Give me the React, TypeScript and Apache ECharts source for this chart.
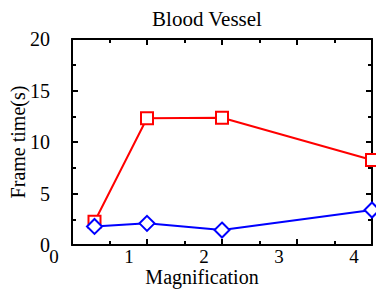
import React, { useEffect, useRef } from "react";
import * as echarts from "echarts";

const magnification = [0.3, 1, 2, 4];
const redTimes = [2.25, 12.3, 12.35, 8.25];
const blueTimes = [1.8, 2.1, 1.45, 3.4];
const xTicks = [0, 1, 2, 3, 4];
const yTicks = [0, 5, 10, 15, 20];

const FONT = "'Liberation Serif', 'DejaVu Serif', serif";

export default function App() {
  const ref = useRef<HTMLDivElement>(null);
  useEffect(() => {
    if (!ref.current) return;
    const chart = echarts.init(ref.current, undefined, { renderer: "svg" });
    const axisCommon = {
      type: "value" as const,
      axisLine: { show: true, onZero: false, lineStyle: { color: "#000", width: 2 } },
      axisTick: { show: true, inside: true, length: 6, lineStyle: { color: "#000", width: 2 } },
      minorTick: { show: true, splitNumber: 2, length: 4, lineStyle: { color: "#000", width: 2 } },
      splitLine: { show: false },
    };
    chart.setOption({
      animation: false,
      title: {
        text: "Blood Vessel",
        left: 202,
        textAlign: "center",
        top: 3,
        textStyle: { fontFamily: FONT, fontSize: 21, fontWeight: "normal", color: "#000" },
      },
      grid: { left: 72, right: 4, top: 39, bottom: 51, containLabel: false, outerBoundsMode: "none" },
      xAxis: [
        {
          ...axisCommon,
          position: "bottom",
          min: xTicks[0],
          max: xTicks[xTicks.length - 1],
          interval: 1,
          axisLabel: {
            show: true,
            margin: 2,
            fontFamily: FONT,
            fontSize: 19,
            lineHeight: 19,
            color: "#000",
            padding: [0, 36, 0, 0],
            showMaxLabel: true,
            showMinLabel: true,
          },
          name: "Magnification",
          nameLocation: "middle",
          nameGap: 22,
          nameMoveOverlap: false,
          nameTextStyle: { fontFamily: FONT, fontSize: 20, lineHeight: 20, color: "#000", padding: [0, 40, 0, 0] },
        },
        {
          ...axisCommon,
          position: "top",
          min: xTicks[0],
          max: xTicks[xTicks.length - 1],
          interval: 1,
          axisLabel: { show: false },
        },
      ],
      yAxis: [
        {
          ...axisCommon,
          position: "left",
          min: yTicks[0],
          max: yTicks[yTicks.length - 1],
          interval: 5,
          axisLabel: {
            show: true,
            margin: 22,
            fontFamily: FONT,
            fontSize: 20,
            color: "#000",
            formatter: (v: number) => String(v),
          },
          name: "Frame time(s)",
          nameLocation: "middle",
          nameGap: 44,
          nameMoveOverlap: false,
          nameTextStyle: { fontFamily: FONT, fontSize: 20, color: "#000" },
        },
        {
          ...axisCommon,
          position: "right",
          min: yTicks[0],
          max: yTicks[yTicks.length - 1],
          interval: 5,
          axisLabel: { show: false },
        },
      ],
      series: [
        {
          type: "line",
          data: magnification.map((x, i) => [x, redTimes[i]]),
          symbol: "rect",
          symbolSize: 12,
          showAllSymbol: true,
          clip: false,
          lineStyle: { color: "#ff0000", width: 2 },
          itemStyle: { color: "#fff", borderColor: "#ff0000", borderWidth: 2 },
        },
        {
          type: "line",
          data: magnification.map((x, i) => [x, blueTimes[i]]),
          symbol: "diamond",
          symbolSize: 15,
          showAllSymbol: true,
          clip: false,
          lineStyle: { color: "#0000ff", width: 2 },
          itemStyle: { color: "#fff", borderColor: "#0000ff", borderWidth: 2 },
        },
      ],
    });
    return () => chart.dispose();
  }, []);
  return (
    <div
      ref={ref}
      style={{ position: "fixed", left: 0, top: 0, width: 376, height: 296, background: "#fff" }}
    />
  );
}
